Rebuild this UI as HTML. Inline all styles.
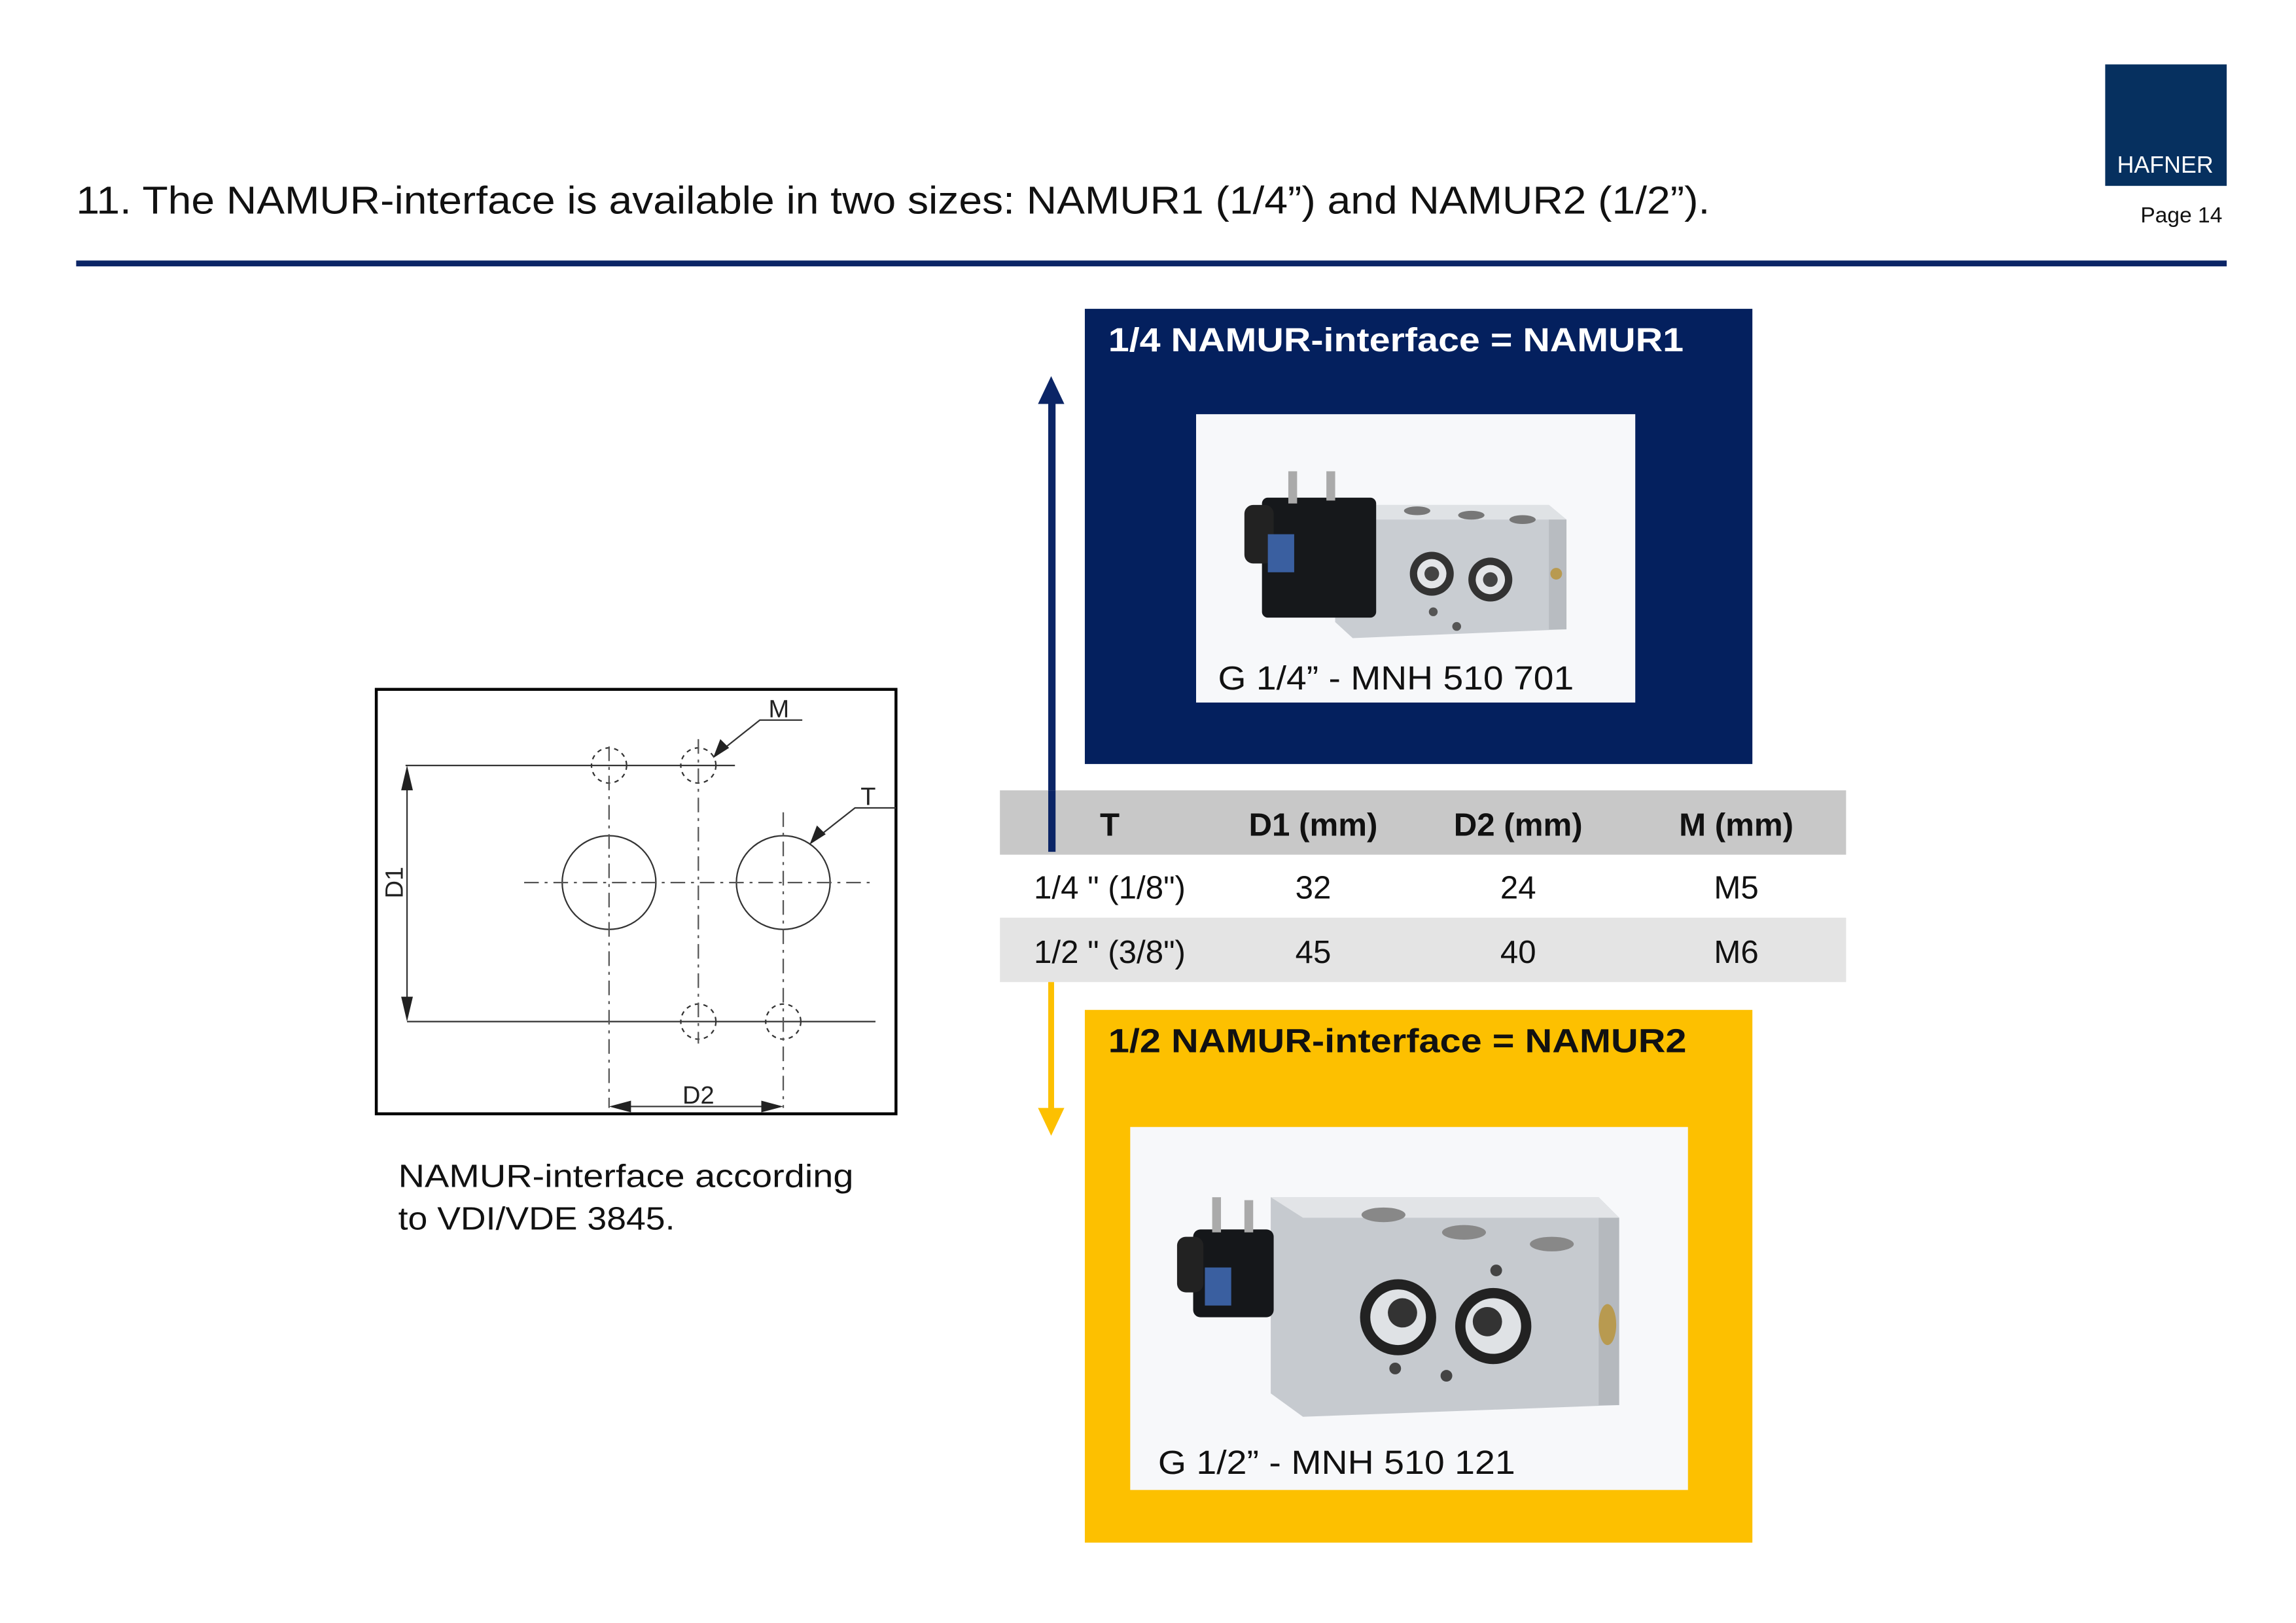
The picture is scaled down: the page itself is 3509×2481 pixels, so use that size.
<!DOCTYPE html>
<html><head><meta charset="utf-8"><style>html,body{margin:0;padding:0;background:#fff}svg{display:block}</style></head>
<body>
<svg width="3509" height="2481" viewBox="0 0 1568.3 1108.9" xmlns="http://www.w3.org/2000/svg" font-family="Liberation Sans, Arial, sans-serif">
<rect width="1568.3" height="1108.9" fill="#fff"/>
<!-- header -->
<text x="52" y="146" font-size="26.5" fill="#111" textLength="1116" lengthAdjust="spacingAndGlyphs">11. The NAMUR-interface is available in two sizes: NAMUR1 (1/4”) and NAMUR2 (1/2”).</text>
<rect x="1438" y="44" width="83" height="83" fill="#06305f"/>
<text x="1479" y="118" font-size="16" fill="#fff" text-anchor="middle">HAFNER</text>
<text x="1518" y="152" font-size="15" fill="#111" text-anchor="end">Page 14</text>
<rect x="52" y="178" width="1469" height="4" fill="#0b2566"/>

<!-- navy box -->
<rect x="741" y="211" width="456" height="311" fill="#04205e"/>
<text x="757" y="240" font-size="23" font-weight="bold" fill="#fff" textLength="393" lengthAdjust="spacingAndGlyphs">1/4 NAMUR-interface = NAMUR1</text>
<rect x="817" y="283" width="300" height="197" fill="#f7f8fa"/>
<!-- valve 1 -->
<polygon points="912,345 1058,345 1070,355 1070,430 924,436 912,425" fill="#c9cdd2"/>
<polygon points="912,345 1058,345 1070,355 924,355" fill="#dfe2e5"/>
<rect x="1058" y="355" width="12" height="75" fill="#b8bcc1"/>
<circle cx="1063" cy="392" r="4" fill="#b89a50"/>
<rect x="862" y="340" width="78" height="82" rx="4" fill="#16181b"/>
<rect x="850" y="345" width="20" height="40" rx="6" fill="#222"/>
<rect x="866" y="365" width="18" height="26" fill="#3a5fa0"/>
<rect x="880" y="322" width="6" height="22" fill="#aaa"/><rect x="906" y="322" width="6" height="20" fill="#aaa"/>
<circle cx="978" cy="392" r="15" fill="#333"/><circle cx="978" cy="392" r="10" fill="#e3e5e8"/><circle cx="978" cy="392" r="5" fill="#444"/>
<circle cx="1018" cy="396" r="15" fill="#333"/><circle cx="1018" cy="396" r="10" fill="#e3e5e8"/><circle cx="1018" cy="396" r="5" fill="#444"/>
<ellipse cx="968" cy="349" rx="9" ry="3" fill="#777"/><ellipse cx="1005" cy="352" rx="9" ry="3" fill="#777"/><ellipse cx="1040" cy="355" rx="9" ry="3" fill="#777"/>
<circle cx="979" cy="418" r="3" fill="#555"/><circle cx="995" cy="428" r="3" fill="#555"/>
<text x="832" y="471" font-size="23" fill="#111" textLength="243" lengthAdjust="spacingAndGlyphs">G 1/4” - MNH 510 701</text>

<!-- navy arrow -->
<rect x="716" y="272" width="5" height="310" fill="#0b2566"/>
<polygon points="709,276 727,276 718,257" fill="#0b2566"/>

<!-- table -->
<rect x="683" y="540" width="578" height="44" fill="#c8c8c8"/>
<rect x="683" y="584" width="578" height="43" fill="#fff"/>
<rect x="683" y="627" width="578" height="44" fill="#e4e4e4"/>
<rect x="716" y="540" width="5" height="42" fill="#0b2566"/>
<g font-size="22" fill="#111" text-anchor="middle">
<text x="758" y="571" font-weight="bold">T</text>
<text x="897" y="571" font-weight="bold">D1 (mm)</text>
<text x="1037" y="571" font-weight="bold">D2 (mm)</text>
<text x="1186" y="571" font-weight="bold">M (mm)</text>
<text x="758" y="614">1/4 " (1/8")</text>
<text x="897" y="614">32</text><text x="1037" y="614">24</text><text x="1186" y="614">M5</text>
<text x="758" y="658">1/2 " (3/8")</text>
<text x="897" y="658">45</text><text x="1037" y="658">40</text><text x="1186" y="658">M6</text>
</g>

<!-- yellow arrow -->
<rect x="716" y="671" width="4" height="88" fill="#fdc000"/>
<polygon points="709,757 727,757 718,776" fill="#fdc000"/>

<!-- yellow box -->
<rect x="741" y="690" width="456" height="364" fill="#fdc000"/>
<text x="757" y="719" font-size="23" font-weight="bold" fill="#111" textLength="395" lengthAdjust="spacingAndGlyphs">1/2 NAMUR-interface = NAMUR2</text>
<rect x="772" y="770" width="381" height="248" fill="#f7f8fa"/>
<!-- valve 2 -->
<polygon points="868,818 1092,818 1106,832 1106,960 890,968 868,952" fill="#c6cacf"/>
<polygon points="868,818 1092,818 1106,832 890,832" fill="#e2e4e7"/>
<rect x="1092" y="832" width="14" height="128" fill="#b5b9be"/>
<ellipse cx="1098" cy="905" rx="6" ry="14" fill="#b89a50"/>
<rect x="815" y="840" width="55" height="60" rx="5" fill="#15171a"/>
<rect x="804" y="845" width="18" height="38" rx="6" fill="#222"/>
<rect x="823" y="866" width="18" height="26" fill="#3a5fa0"/>
<rect x="828" y="818" width="6" height="24" fill="#aaa"/><rect x="850" y="820" width="6" height="22" fill="#aaa"/>
<circle cx="955" cy="900" r="26" fill="#222"/><circle cx="955" cy="900" r="19" fill="#dfe2e5"/><circle cx="958" cy="897" r="10" fill="#333"/>
<circle cx="1020" cy="906" r="26" fill="#222"/><circle cx="1020" cy="906" r="19" fill="#dfe2e5"/><circle cx="1016" cy="903" r="10" fill="#333"/>
<ellipse cx="945" cy="830" rx="15" ry="5" fill="#888"/><ellipse cx="1000" cy="842" rx="15" ry="5" fill="#888"/><ellipse cx="1060" cy="850" rx="15" ry="5" fill="#888"/>
<circle cx="1022" cy="868" r="4" fill="#444"/><circle cx="953" cy="935" r="4" fill="#444"/><circle cx="988" cy="940" r="4" fill="#444"/>
<text x="791" y="1007" font-size="23" fill="#111" textLength="244" lengthAdjust="spacingAndGlyphs">G 1/2” - MNH 510 121</text>

<!-- drawing -->
<rect x="257" y="471" width="355" height="290" fill="#fff" stroke="#000" stroke-width="2"/>
<g stroke="#333" fill="none" stroke-width="1">
<line x1="277" y1="523" x2="502" y2="523"/>
<line x1="278" y1="698" x2="598" y2="698"/>
<line x1="278" y1="527" x2="278" y2="694"/>
<ellipse cx="416" cy="603" rx="32" ry="32"/>
<ellipse cx="535" cy="603" rx="32" ry="32"/>
<g stroke-dasharray="3,3"><circle cx="416" cy="523" r="12"/><circle cx="477" cy="523" r="12"/><circle cx="477" cy="698" r="12"/><circle cx="535" cy="698" r="12"/></g>
<g stroke-dasharray="10,4,2,4" stroke="#555">
<line x1="416" y1="510" x2="416" y2="757"/>
<line x1="477" y1="505" x2="477" y2="713"/>
<line x1="535" y1="555" x2="535" y2="757"/>
<line x1="358" y1="603" x2="598" y2="603"/>
</g>
<line x1="420" y1="756" x2="531" y2="756"/>
<polyline points="490,515 519,492 548,492"/>
<polyline points="556,574 584,552 612,552"/>
</g>
<g fill="#222">
<polygon points="278,523 274,540 282,540"/>
<polygon points="278,698 274,681 282,681"/>
<polygon points="416,756 431,752 431,760"/>
<polygon points="535,756 520,752 520,760"/>
<polygon points="487,518 492,505 498,511"/>
<polygon points="553,577 558,564 564,570"/>
</g>
<g font-size="17" fill="#222">
<text x="532" y="490" text-anchor="middle">M</text>
<text x="593" y="550" text-anchor="middle">T</text>
<text x="477" y="754" text-anchor="middle">D2</text>
<text transform="translate(275,603) rotate(-90)" text-anchor="middle">D1</text>
</g>
<text x="272" y="811" font-size="22" fill="#111" textLength="311" lengthAdjust="spacingAndGlyphs">NAMUR-interface according</text>
<text x="272" y="840" font-size="22" fill="#111" textLength="189" lengthAdjust="spacingAndGlyphs">to VDI/VDE 3845.</text>
</svg>
</body></html>
